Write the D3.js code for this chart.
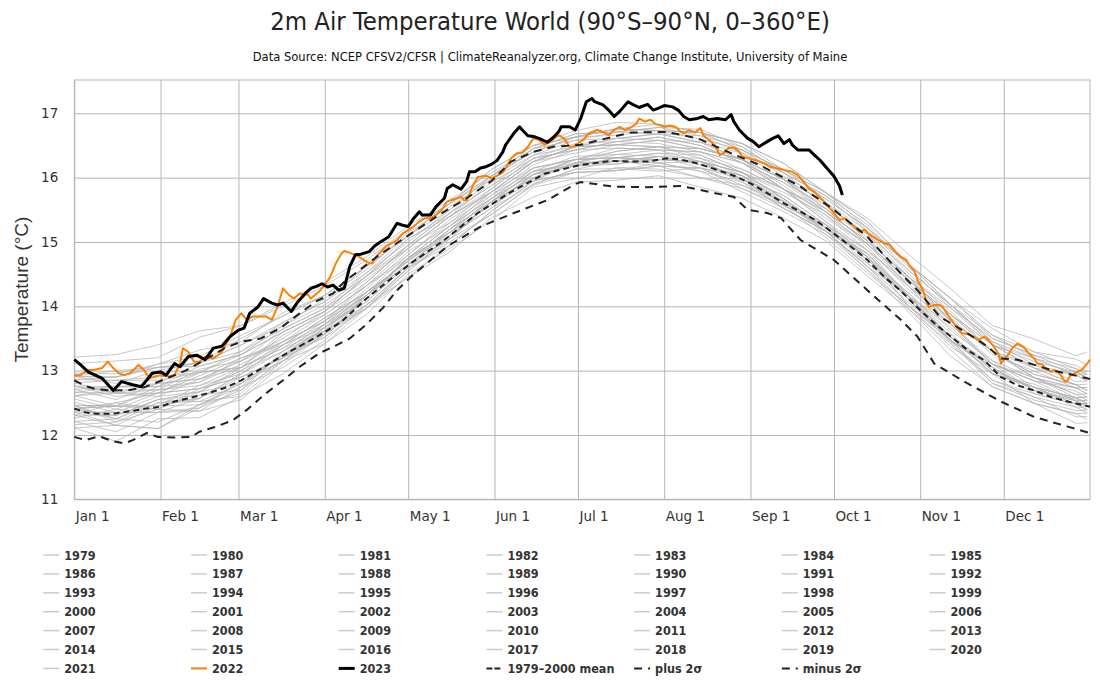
<!DOCTYPE html>
<html><head><meta charset="utf-8">
<script src="https://cdn.jsdelivr.net/npm/d3@7"></script>
<style>body{margin:0;background:#fff}</style>
</head><body>
<svg id="chart" width="1100" height="700"></svg>
<script>
// ---------------- DATA ----------------
const titleText = "2m Air Temperature World (90°S–90°N, 0–360°E)";
const subtitleText = "Data Source: NCEP CFSV2/CFSR | ClimateReanalyzer.org, Climate Change Institute, University of Maine";
const yAxisTitle = "Temperature (°C)";
const yTicks = [11, 12, 13, 14, 15, 16, 17];
const monthDays = [0, 31, 59, 90, 120, 151, 181, 212, 243, 273, 304, 334];
const monthLabels = ["Jan 1","Feb 1","Mar 1","Apr 1","May 1","Jun 1","Jul 1","Aug 1","Sep 1","Oct 1","Nov 1","Dec 1"];

const greyYears = [1979,1980,1981,1982,1983,1984,1985,1986,1987,1988,1989,1990,1991,1992,1993,1994,1995,1996,1997,1998,1999,2000,2001,2002,2003,2004,2005,2006,2007,2008,2009,2010,2011,2012,2013,2014,2015,2016,2017,2018,2019,2020,2021];
// day-of-year sample points for the grey (1979–2021) lines
const greyDays = [0,15,30,45,60,75,90,105,120,135,150,165,180,195,210,225,240,255,270,285,300,315,330,345,360,364];
// 1979–2000 mean temperature at those days (°C)
const greyBase = [12.41,12.35,12.45,12.62,12.85,13.25,13.62,14.12,14.65,15.1,15.58,16.0,16.18,16.26,16.28,16.2,15.98,15.62,15.22,14.72,14.1,13.52,13.0,12.69,12.48,12.44];
// estimated departure (°C) of each grey year's line from that mean, at greyDays
const greyAnom = [
 [-0.25,-0.15,0.05,-0.1,-0.25,-0.1,0.0,-0.15,-0.1,-0.05,-0.15,-0.1,-0.05,-0.12,-0.18,-0.05,-0.1,0.02,-0.1,-0.05,0.05,-0.08,0.1,0.0,0.08,0.05],
 [0.05,-0.1,0.1,0.0,-0.15,0.05,0.1,-0.05,0.0,0.1,0.05,-0.02,0.05,0.0,-0.05,0.05,0.0,-0.1,-0.05,0.1,0.0,-0.1,-0.15,-0.05,0.0,-0.05],
 [-0.1,0.15,0.2,0.1,0.05,-0.05,0.1,0.05,0.08,0.0,0.05,0.1,0.02,0.0,0.05,0.1,0.05,0.0,-0.05,-0.1,0.05,0.0,-0.05,0.1,0.05,0.0],
 [-0.05,-0.2,-0.35,-0.2,-0.15,-0.1,-0.2,-0.15,-0.05,-0.1,-0.15,-0.12,-0.1,-0.15,-0.1,-0.2,-0.15,-0.05,0.0,0.05,-0.1,0.0,0.1,0.15,0.2,0.15],
 [0.35,0.3,0.25,0.15,0.2,0.1,0.0,0.05,0.1,0.05,0.0,0.05,0.1,0.05,0.0,0.05,0.1,0.05,-0.05,-0.1,-0.15,-0.1,-0.2,-0.15,-0.1,-0.05],
 [-0.2,-0.3,-0.1,-0.25,-0.3,-0.15,-0.05,-0.1,-0.2,-0.15,-0.1,-0.05,-0.1,-0.15,-0.05,-0.1,-0.2,-0.15,-0.1,-0.15,-0.2,-0.3,-0.25,-0.2,-0.3,-0.25],
 [-0.3,-0.45,-0.2,-0.35,-0.25,-0.3,-0.2,-0.25,-0.15,-0.2,-0.25,-0.15,-0.2,-0.1,-0.15,-0.2,-0.1,-0.05,-0.15,-0.2,-0.1,-0.15,-0.05,-0.2,-0.15,-0.1],
 [-0.15,0.05,-0.1,-0.2,0.0,-0.1,-0.05,-0.15,-0.1,0.0,-0.05,-0.1,-0.05,0.0,-0.1,-0.05,0.05,0.0,0.05,0.0,0.1,0.05,0.0,0.05,0.1,0.15],
 [0.0,0.1,-0.05,0.05,0.15,0.05,0.0,0.1,0.05,0.1,0.15,0.1,0.05,0.15,0.2,0.1,0.15,0.2,0.1,0.15,0.05,0.2,0.1,0.15,0.25,0.2],
 [0.25,0.3,0.2,0.35,0.2,0.15,0.1,0.05,0.1,0.15,0.1,0.05,0.1,0.05,0.0,0.05,-0.05,0.0,-0.05,0.05,-0.1,-0.05,-0.15,-0.1,-0.2,-0.15],
 [-0.3,-0.2,-0.35,-0.15,-0.2,-0.05,0.0,-0.1,-0.05,0.0,-0.05,0.05,0.0,-0.05,0.05,0.0,0.05,-0.05,0.0,0.05,0.0,-0.05,0.05,0.0,0.05,0.0],
 [0.0,0.1,0.25,0.2,0.35,0.15,0.2,0.1,0.05,0.1,0.05,0.1,0.0,0.05,0.1,0.05,0.0,0.1,0.05,0.15,0.2,0.1,0.15,0.05,0.1,0.05],
 [0.1,0.0,0.15,0.05,0.2,0.1,0.15,0.05,0.1,0.15,0.1,0.05,0.0,0.05,-0.05,-0.1,-0.05,-0.1,-0.05,-0.1,-0.05,0.0,-0.05,0.05,0.0,-0.05],
 [-0.05,0.0,-0.1,-0.05,0.05,-0.05,-0.1,-0.15,-0.2,-0.25,-0.2,-0.3,-0.25,-0.3,-0.25,-0.35,-0.3,-0.25,-0.2,-0.25,-0.15,-0.2,-0.25,-0.2,-0.15,-0.2],
 [-0.2,-0.1,-0.25,-0.15,-0.1,-0.2,-0.15,-0.1,-0.05,-0.15,-0.1,-0.05,-0.1,-0.15,-0.1,-0.05,-0.15,-0.1,-0.05,-0.15,-0.1,-0.05,-0.2,-0.1,-0.05,-0.1],
 [0.05,-0.15,-0.05,-0.25,-0.1,0.0,-0.05,0.05,0.0,-0.05,0.05,0.0,0.05,-0.05,0.0,0.05,0.0,-0.05,0.05,0.1,0.05,0.15,0.1,0.2,0.15,0.1],
 [0.2,0.35,0.25,0.4,0.3,0.2,0.15,0.1,0.05,0.1,0.05,0.1,0.15,0.1,0.15,0.05,0.1,0.05,0.0,-0.05,0.05,0.0,-0.05,0.05,-0.05,0.0],
 [-0.1,-0.2,0.0,-0.15,-0.05,-0.1,0.05,-0.05,0.0,0.05,0.0,-0.05,0.05,0.0,0.05,-0.05,0.0,0.05,0.0,0.05,0.0,-0.05,0.05,0.0,0.05,0.1],
 [0.0,-0.05,0.1,0.05,-0.05,0.0,0.05,0.1,0.0,0.05,0.1,0.15,0.1,0.2,0.15,0.2,0.25,0.2,0.3,0.25,0.3,0.35,0.3,0.4,0.35,0.4],
 [0.45,0.55,0.6,0.5,0.55,0.45,0.4,0.35,0.4,0.3,0.35,0.3,0.35,0.3,0.25,0.2,0.15,0.2,0.1,0.05,0.1,0.0,0.05,-0.05,0.0,0.05],
 [-0.1,-0.05,0.1,-0.1,-0.05,0.0,-0.1,0.05,0.0,-0.05,0.05,0.0,0.05,0.1,0.05,0.0,0.05,0.1,0.05,0.0,0.05,-0.05,0.0,0.05,0.1,0.05],
 [0.0,0.15,-0.05,0.1,0.05,-0.05,0.05,0.0,0.1,0.05,0.0,0.05,0.1,0.05,0.0,0.05,0.1,0.05,0.0,0.1,0.05,0.0,-0.05,0.05,0.0,0.05],
 [0.05,0.1,0.0,-0.05,0.1,0.15,0.2,0.1,0.15,0.2,0.15,0.2,0.25,0.2,0.15,0.2,0.25,0.2,0.15,0.25,0.2,0.3,0.25,0.3,0.25,0.3],
 [0.3,0.4,0.35,0.5,0.45,0.4,0.35,0.3,0.25,0.3,0.2,0.25,0.3,0.25,0.2,0.25,0.3,0.25,0.2,0.25,0.3,0.35,0.3,0.25,0.3,0.25],
 [0.3,0.2,0.35,0.25,0.2,0.3,0.25,0.2,0.15,0.25,0.2,0.25,0.2,0.25,0.3,0.25,0.3,0.35,0.25,0.3,0.35,0.25,0.3,0.2,0.25,0.3],
 [0.35,0.25,0.2,0.3,0.35,0.2,0.15,0.2,0.1,0.15,0.2,0.15,0.1,0.15,0.2,0.15,0.1,0.2,0.25,0.3,0.2,0.25,0.3,0.2,0.15,0.2],
 [0.25,0.4,0.3,0.35,0.2,0.35,0.3,0.25,0.3,0.35,0.3,0.25,0.3,0.35,0.3,0.25,0.3,0.35,0.4,0.3,0.35,0.4,0.3,0.25,0.3,0.35],
 [0.2,0.1,0.3,0.2,0.25,0.2,0.15,0.25,0.3,0.2,0.25,0.3,0.25,0.3,0.35,0.3,0.25,0.3,0.35,0.4,0.35,0.45,0.4,0.5,0.45,0.4],
 [0.5,0.65,0.6,0.45,0.4,0.35,0.3,0.35,0.25,0.3,0.2,0.25,0.3,0.25,0.2,0.25,0.3,0.2,0.25,0.2,0.15,0.2,0.1,0.15,0.05,0.1],
 [0.0,-0.1,0.05,-0.05,0.1,0.15,0.05,0.0,0.1,0.05,0.1,0.15,0.1,0.05,0.1,0.15,0.1,0.15,0.2,0.15,0.25,0.2,0.15,0.2,0.1,0.15],
 [0.05,0.1,0.0,0.15,0.1,0.05,0.1,0.15,0.2,0.15,0.2,0.25,0.3,0.25,0.3,0.35,0.3,0.35,0.3,0.25,0.3,0.35,0.4,0.35,0.45,0.4],
 [0.5,0.55,0.65,0.6,0.7,0.6,0.55,0.5,0.45,0.5,0.4,0.45,0.5,0.45,0.4,0.35,0.3,0.35,0.3,0.35,0.3,0.25,0.3,0.2,0.25,0.2],
 [0.15,0.05,0.2,0.1,0.15,0.2,0.25,0.2,0.25,0.3,0.25,0.3,0.25,0.3,0.35,0.3,0.25,0.3,0.25,0.3,0.35,0.25,0.3,0.35,0.3,0.25],
 [0.2,0.3,0.15,0.25,0.3,0.25,0.3,0.35,0.4,0.35,0.3,0.35,0.4,0.35,0.4,0.45,0.4,0.35,0.4,0.45,0.4,0.35,0.4,0.35,0.3,0.25],
 [0.35,0.4,0.3,0.45,0.4,0.35,0.3,0.35,0.3,0.35,0.4,0.35,0.3,0.35,0.4,0.35,0.4,0.45,0.35,0.4,0.45,0.5,0.4,0.45,0.5,0.45],
 [0.4,0.5,0.45,0.35,0.4,0.45,0.5,0.45,0.5,0.45,0.4,0.45,0.4,0.45,0.5,0.45,0.5,0.45,0.5,0.55,0.5,0.45,0.5,0.55,0.5,0.45],
 [0.5,0.45,0.55,0.5,0.55,0.5,0.45,0.4,0.45,0.5,0.45,0.5,0.45,0.5,0.45,0.5,0.55,0.6,0.55,0.65,0.7,0.75,0.7,0.8,0.75,0.85],
 [0.8,0.9,0.95,1.0,0.85,0.8,0.75,0.65,0.6,0.55,0.5,0.45,0.5,0.45,0.5,0.55,0.5,0.45,0.5,0.45,0.55,0.5,0.45,0.5,0.55,0.5],
 [0.55,0.6,0.65,0.7,0.6,0.65,0.55,0.5,0.45,0.5,0.45,0.4,0.45,0.5,0.45,0.4,0.45,0.5,0.45,0.5,0.55,0.5,0.55,0.6,0.55,0.5],
 [0.45,0.5,0.4,0.35,0.45,0.5,0.45,0.5,0.45,0.4,0.45,0.4,0.45,0.4,0.45,0.5,0.45,0.4,0.45,0.5,0.55,0.6,0.55,0.5,0.45,0.55],
 [0.5,0.55,0.6,0.5,0.65,0.6,0.55,0.5,0.55,0.5,0.55,0.5,0.55,0.6,0.55,0.5,0.55,0.6,0.55,0.6,0.55,0.6,0.65,0.6,0.7,0.65],
 [0.7,0.8,0.75,0.9,0.85,0.75,0.7,0.6,0.55,0.5,0.55,0.5,0.45,0.5,0.55,0.5,0.45,0.5,0.55,0.5,0.45,0.5,0.45,0.4,0.45,0.5],
 [0.4,0.3,0.35,0.25,0.3,0.4,0.35,0.4,0.35,0.4,0.45,0.4,0.45,0.5,0.45,0.5,0.55,0.5,0.55,0.6,0.55,0.6,0.5,0.55,0.6,0.55]
];

// [day of year, °C]
const series2023 = [[0,13.17],[2,13.1],[5,12.98],[10,12.88],[14,12.69],[17,12.83],[21,12.78],[24,12.75],[26,12.85],[28,12.96],[31,12.98],[33,12.93],[36,13.11],[38,13.06],[41,13.22],[44,13.24],[47,13.17],[50,13.35],[53,13.38],[56,13.53],[59,13.63],[61,13.66],[63,13.89],[66,13.99],[68,14.12],[71,14.05],[73,14.02],[75,14.05],[78,13.92],[80,14.05],[83,14.2],[85,14.28],[87,14.31],[89,14.35],[91,14.3],[93,14.33],[95,14.25],[97,14.28],[99,14.62],[101,14.8],[103,14.81],[106,14.85],[108,14.94],[110,15.0],[113,15.08],[116,15.29],[118,15.26],[120,15.24],[122,15.37],[124,15.47],[125,15.42],[128,15.42],[130,15.55],[133,15.68],[134,15.83],[136,15.89],[139,15.82],[141,15.94],[142,16.09],[144,16.09],[146,16.15],[148,16.17],[150,16.21],[152,16.27],[154,16.4],[155,16.51],[158,16.69],[160,16.79],[161,16.74],[163,16.65],[165,16.64],[167,16.61],[170,16.55],[172,16.62],[174,16.71],[175,16.79],[178,16.79],[180,16.74],[182,16.92],[184,17.18],[186,17.23],[187,17.18],[190,17.13],[192,17.05],[194,16.95],[196,17.03],[199,17.18],[201,17.13],[203,17.09],[206,17.14],[208,17.05],[210,17.08],[212,17.12],[215,17.1],[217,17.05],[219,16.95],[221,16.9],[224,16.92],[226,16.95],[228,16.9],[231,16.92],[234,16.9],[236,16.98],[237,16.87],[239,16.74],[242,16.61],[244,16.56],[246,16.48],[249,16.56],[251,16.61],[253,16.65],[255,16.53],[257,16.59],[258,16.51],[260,16.43],[264,16.43],[266,16.35],[268,16.27],[270,16.17],[273,16.02],[275,15.87],[276,15.73]];

const series2022 = [[0,12.93],[2,12.93],[5,13.01],[7,13.01],[10,13.04],[12,13.14],[14,13.04],[16,12.96],[18,12.93],[20,12.96],[22,13.04],[23,13.09],[25,13.01],[27,12.88],[29,12.91],[31,12.93],[34,12.91],[36,12.93],[38,13.11],[39,13.35],[41,13.29],[43,13.14],[45,13.14],[47,13.22],[50,13.19],[51,13.22],[53,13.29],[56,13.53],[58,13.79],[60,13.89],[62,13.79],[64,13.84],[66,13.84],[69,13.84],[71,13.79],[73,13.99],[75,14.28],[77,14.18],[79,14.12],[81,14.2],[84,14.18],[85,14.12],[88,14.23],[90,14.33],[92,14.46],[94,14.67],[96,14.82],[97,14.86],[99,14.83],[102,14.78],[104,14.72],[106,14.67],[107,14.67],[109,14.8],[112,14.93],[114,14.98],[116,15.03],[118,15.13],[121,15.21],[122,15.24],[124,15.32],[126,15.37],[128,15.37],[130,15.42],[132,15.5],[134,15.63],[136,15.66],[139,15.7],[140,15.65],[141,15.65],[142,15.73],[143,15.86],[145,16.01],[148,16.03],[150,15.99],[152,16.03],[154,16.08],[155,16.15],[157,16.3],[159,16.38],[161,16.39],[163,16.48],[165,16.61],[167,16.59],[169,16.51],[171,16.56],[174,16.66],[176,16.61],[178,16.48],[179,16.48],[181,16.53],[183,16.59],[185,16.69],[188,16.74],[190,16.71],[192,16.66],[194,16.74],[196,16.79],[198,16.74],[200,16.78],[202,16.84],[203,16.92],[205,16.87],[207,16.9],[209,16.83],[210,16.82],[212,16.79],[214,16.81],[216,16.79],[218,16.71],[219,16.69],[221,16.74],[223,16.7],[225,16.77],[226,16.66],[228,16.59],[230,16.51],[231,16.43],[232,16.35],[234,16.4],[235,16.46],[237,16.47],[239,16.4],[240,16.33],[243,16.29],[245,16.27],[248,16.22],[250,16.17],[252,16.15],[255,16.12],[258,16.09],[260,16.04],[262,15.94],[264,15.83],[266,15.78],[267,15.73],[269,15.65],[271,15.55],[273,15.45],[275,15.34],[277,15.37],[279,15.29],[281,15.21],[282,15.16],[284,15.19],[285,15.14],[287,15.08],[289,15.03],[291,14.98],[293,14.96],[295,14.85],[297,14.77],[299,14.72],[300,14.64],[302,14.54],[303,14.41],[305,14.25],[306,14.1],[307,13.99],[309,14.02],[311,14.02],[312,13.99],[314,13.86],[316,13.74],[318,13.63],[319,13.58],[321,13.57],[323,13.53],[325,13.48],[327,13.53],[328,13.5],[330,13.4],[332,13.27],[333,13.11],[334,13.17],[336,13.27],[337,13.35],[339,13.42],[341,13.37],[343,13.27],[345,13.19],[346,13.11],[348,13.09],[349,13.04],[351,12.98],[352,13.01],[354,12.96],[356,12.83],[357,12.85],[358,12.93],[360,12.97],[362,13.01],[364,13.11],[365,13.17]];

const seriesMean = [[0,12.41],[4,12.35],[8,12.33],[14,12.33],[20,12.37],[26,12.41],[31,12.44],[36,12.52],[42,12.58],[48,12.65],[54,12.73],[60,12.85],[66,13.0],[72,13.16],[78,13.31],[84,13.45],[90,13.6],[96,13.76],[105,14.12],[113,14.4],[121,14.67],[133,15.03],[145,15.45],[157,15.78],[169,16.06],[181,16.19],[193,16.26],[200,16.25],[206,16.25],[213,16.3],[218,16.28],[224,16.22],[231,16.12],[237,16.03],[243,15.91],[249,15.76],[255,15.6],[261,15.47],[267,15.32],[273,15.13],[279,14.93],[285,14.72],[291,14.46],[297,14.24],[303,13.98],[309,13.74],[315,13.53],[321,13.32],[327,13.16],[333,12.9],[339,12.77],[345,12.69],[351,12.59],[357,12.52],[365,12.44]];

const seriesPlus = [[0,12.85],[4,12.76],[8,12.71],[14,12.69],[20,12.7],[25,12.74],[31,12.84],[40,13.0],[47,13.17],[54,13.35],[60,13.45],[67,13.5],[74,13.66],[81,13.89],[87,14.08],[93,14.2],[97,14.38],[109,14.78],[121,15.13],[131,15.42],[141,15.68],[150,15.95],[157,16.25],[165,16.4],[172,16.48],[182,16.51],[194,16.64],[200,16.7],[213,16.71],[224,16.61],[236,16.38],[246,16.2],[254,16.02],[261,15.86],[273,15.5],[285,15.08],[297,14.51],[303,14.25],[311,13.84],[321,13.58],[328,13.38],[333,13.19],[339,13.17],[351,13.01],[365,12.87]];

const seriesMinus = [[0,11.97],[4,11.92],[9,11.98],[14,11.9],[18,11.87],[21,11.92],[26,12.03],[30,11.97],[36,11.96],[42,11.97],[45,12.05],[51,12.13],[57,12.23],[62,12.39],[69,12.65],[75,12.85],[81,13.06],[88,13.27],[93,13.37],[99,13.5],[105,13.72],[111,13.98],[116,14.25],[122,14.5],[134,14.93],[146,15.24],[158,15.45],[170,15.65],[180,15.9],[182,15.93],[194,15.86],[206,15.85],[218,15.87],[225,15.81],[230,15.76],[237,15.7],[242,15.5],[249,15.45],[254,15.37],[261,15.03],[273,14.72],[285,14.25],[297,13.79],[303,13.53],[309,13.11],[321,12.8],[333,12.52],[345,12.28],[357,12.13],[365,12.03]];

const legendLabels = greyYears.map(String).concat(["2022","2023","1979–2000 mean","plus 2σ","minus 2σ"]);

// ---------------- DRAWING ----------------
const svg = d3.select("#chart");
const L = 74.3, R = 1090, T = 80, B = 499.3;
const x = d3.scaleLinear().domain([0, 365]).range([L, R]);
const y = d3.scaleLinear().domain([11, 17]).range([B, 113.3]);
const gridColor = "#b5b5b5";

// title + subtitle
const title = svg.append("text").attr("x", 550).attr("y", 30).attr("text-anchor", "middle")
  .attr("font-family", "'DejaVu Sans Condensed', 'DejaVu Sans', sans-serif").attr("font-size", 24)
  .attr("fill", "#222").text(titleText);
const tw = title.node().getComputedTextLength();
title.attr("font-size", 24 * 560 / tw);

const sub = svg.append("text").attr("x", 550).attr("y", 61).attr("text-anchor", "middle")
  .attr("font-family", "'DejaVu Sans Condensed', 'DejaVu Sans', sans-serif").attr("font-size", 12)
  .attr("fill", "#111").text(subtitleText);
const sw = sub.node().getComputedTextLength();
sub.attr("font-size", 12 * 595 / sw);

// y axis with grid
const gy = svg.append("g").attr("transform", `translate(${L},0)`)
  .call(d3.axisLeft(y).tickValues(yTicks).tickSize(-(R - L)).tickPadding(16).tickFormat(d3.format("d")));
gy.select(".domain").remove();
gy.selectAll(".tick line").attr("stroke", gridColor);
gy.selectAll(".tick text").attr("font-family", "'DejaVu Sans', sans-serif").attr("font-size", 13.5).attr("fill", "#333");

// x axis with grid
const gx = svg.append("g").attr("transform", `translate(0,${B})`)
  .call(d3.axisBottom(x).tickValues(monthDays).tickSize(-(B - T)).tickFormat((d, i) => monthLabels[i]));
gx.select(".domain").remove();
gx.selectAll(".tick line").attr("stroke", gridColor);
gx.selectAll(".tick text").attr("text-anchor", "start").attr("x", 1).attr("y", 22).attr("dy", 0)
  .attr("font-family", "'DejaVu Sans', sans-serif").attr("font-size", 13.5).attr("fill", "#333");

// plot border
svg.append("rect").attr("x", L).attr("y", T).attr("width", R - L).attr("height", B - T)
  .attr("fill", "none").attr("stroke", gridColor);

// y axis title
svg.append("text").attr("transform", `translate(21,${(T + B) / 2}) rotate(-90)`)
  .attr("text-anchor", "middle").attr("dominant-baseline", "central")
  .attr("font-family", "'Liberation Sans', Arial, sans-serif").attr("font-size", 19)
  .attr("fill", "#333").text(yAxisTitle);

const line = d3.line().x(d => x(d[0])).y(d => y(d[1]));
const plot = svg.append("g");

// grey years
greyYears.forEach((yr, i) => {
  const pts = greyDays.map((d, j) => [d, greyBase[j] + greyAnom[i][j]]);
  plot.append("path").datum(pts).attr("d", line).attr("fill", "none")
    .attr("stroke", "#b4b4b4").attr("stroke-opacity", 0.75).attr("stroke-width", 1);
});

plot.append("path").datum(series2022).attr("d", line).attr("fill", "none")
  .attr("stroke", "#ff8000").attr("stroke-width", 2).attr("stroke-linejoin", "round");
plot.append("path").datum(series2023).attr("d", line).attr("fill", "none")
  .attr("stroke", "#000").attr("stroke-width", 3).attr("stroke-linejoin", "round");
plot.append("path").datum(seriesMean).attr("d", line).attr("fill", "none")
  .attr("stroke", "#222").attr("stroke-width", 2).attr("stroke-dasharray", "6,4");
plot.append("path").datum(seriesPlus).attr("d", line).attr("fill", "none")
  .attr("stroke", "#222").attr("stroke-width", 2).attr("stroke-dasharray", "8,6");
plot.append("path").datum(seriesMinus).attr("d", line).attr("fill", "none")
  .attr("stroke", "#222").attr("stroke-width", 2).attr("stroke-dasharray", "8,6");

// legend
const legend = svg.append("g");
legendLabels.forEach((lab, i) => {
  const col = i % 7, row = Math.floor(i / 7);
  const sx = 43.3 + col * 147.7, cy = 555 + row * 18.9;
  let stroke = "#cccccc", w = 1.5, dash = null;
  if (lab === "2022") { stroke = "#ff8000"; w = 2; }
  else if (lab === "2023") { stroke = "#000"; w = 3; }
  else if (lab.indexOf("mean") >= 0) { stroke = "#222"; w = 2; dash = "6,2"; }
  else if (lab.indexOf("2σ") >= 0) { stroke = "#222"; w = 2; dash = "8,6"; }
  const ln = legend.append("line").attr("x1", sx).attr("x2", sx + 16).attr("y1", cy).attr("y2", cy)
    .attr("stroke", stroke).attr("stroke-width", w);
  if (dash) ln.attr("stroke-dasharray", dash);
  legend.append("text").attr("x", sx + 21).attr("y", cy).attr("dominant-baseline", "central")
    .attr("font-family", "'DejaVu Sans Condensed', 'DejaVu Sans', sans-serif").attr("font-weight", "bold")
    .attr("font-size", 12.5).attr("fill", "#333").text(lab);
});
</script>
</body></html>
